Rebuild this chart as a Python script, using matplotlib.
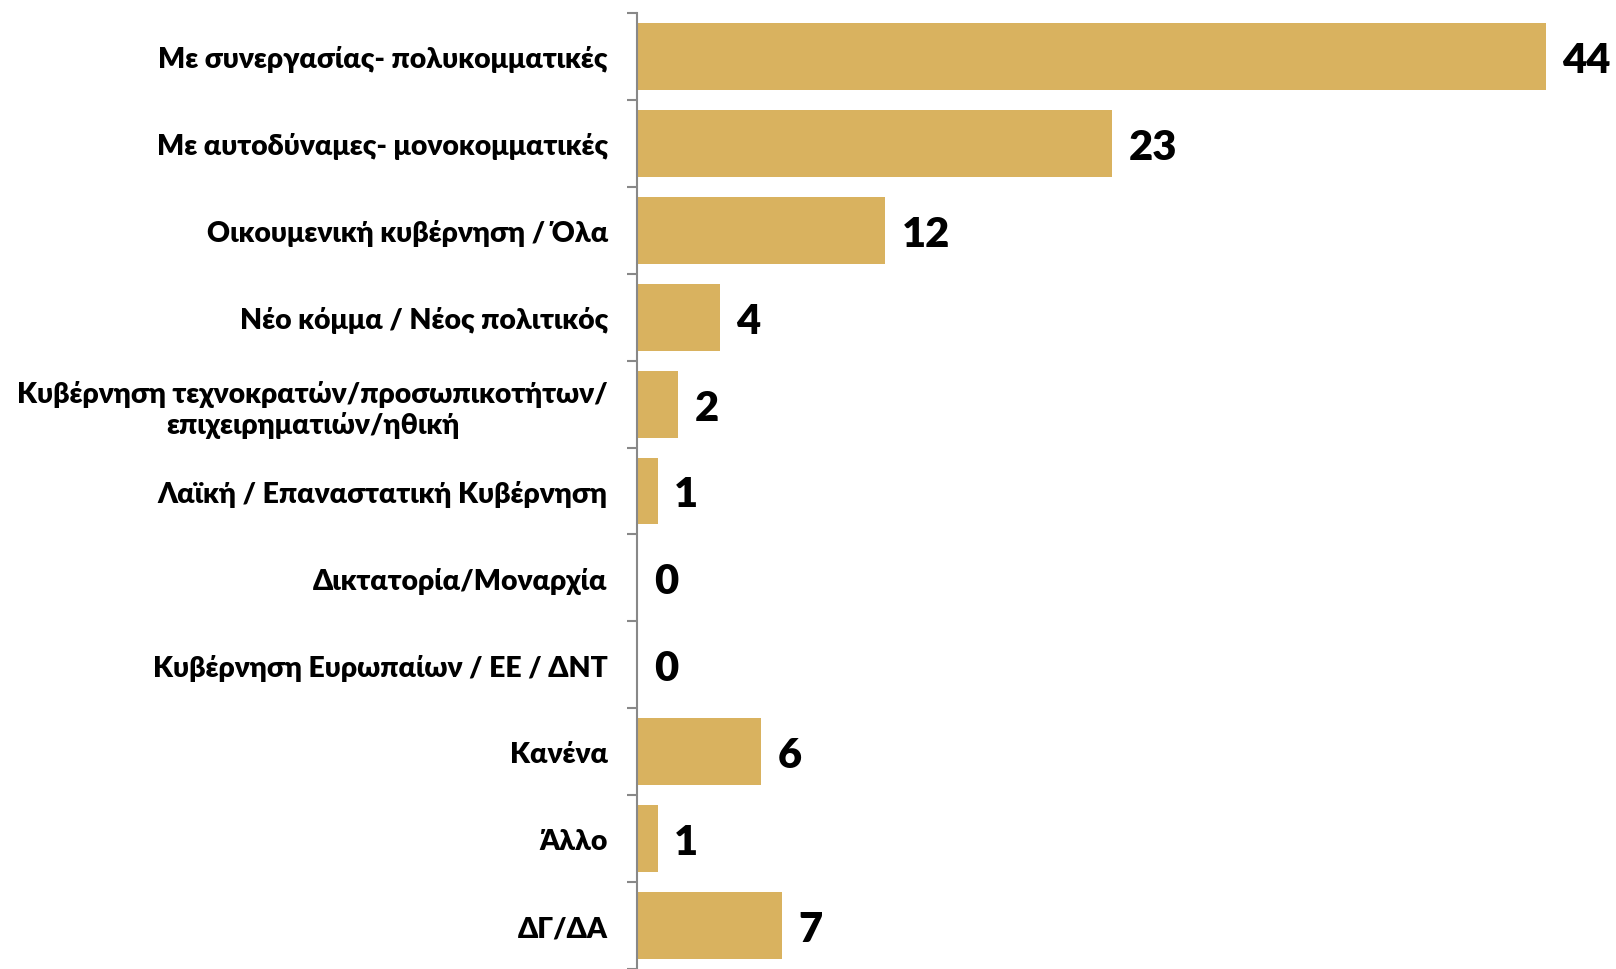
#Horizontal bar chart of preferred type of government (percent)
import numpy as np
from matplotlib import pyplot as plt

#Category labels, top to bottom
categories = [
    "Με συνεργασίας- πολυκομματικές",
    "Με αυτοδύναμες- μονοκομματικές",
    "Οικουμενική κυβέρνηση / Όλα",
    "Νέο κόμμα / Νέος πολιτικός",
    "Κυβέρνηση τεχνοκρατών/προσωπικοτήτων/\nεπιχειρηματιών/ηθική",
    "Λαϊκή / Επαναστατική Κυβέρνηση",
    "Δικτατορία/Μοναρχία",
    "Κυβέρνηση Ευρωπαίων / ΕΕ / ΔΝΤ",
    "Κανένα",
    "Άλλο",
    "ΔΓ/ΔΑ",
]

#Percent values
values = [44, 23, 12, 4, 2, 1, 0, 0, 6, 1, 7]

bar_color = "#D9B25F"
axis_gray = "#888888"

plt.rcParams['font.family'] = ['Lato', 'Noto Sans', 'DejaVu Sans']

fig = plt.figure(figsize=(16.16, 9.70), dpi=100)
ax = fig.add_axes([637 / 1616, 0.0, 1 - 637 / 1616, 1 - 14 / 970])

y = np.arange(len(categories))
ax.barh(y, values, height=0.77, color=bar_color)

#Value labels to the right of each bar
for yi, v in zip(y, values):
    ax.annotate(str(v), xy=(v, yi), xytext=(12, 0), textcoords='offset points',
                ha='left', va='center_baseline', fontsize=30, fontweight='heavy', color='black')

ax.set_xlim(0, 47.4)
ax.set_ylim(len(categories) - 0.5, -0.5)

ax.set_yticks(y)
ax.set_yticklabels(categories, fontsize=20.4, fontweight='heavy')
for lab in ax.get_yticklabels():
    lab.set_multialignment('center')

#Separator ticks between categories
ax.set_yticks(np.arange(-0.5, len(categories) + 0.5, 1), minor=True)
ax.tick_params(axis='y', which='major', length=0, pad=21)
ax.tick_params(axis='y', which='minor', length=7, width=1.5, color=axis_gray, direction='out')

ax.set_xticks([])
for side in ['top', 'right', 'bottom']:
    ax.spines[side].set_visible(False)
ax.spines['left'].set_color(axis_gray)
ax.spines['left'].set_linewidth(1.5)

fig.savefig("out.png", dpi=100)
